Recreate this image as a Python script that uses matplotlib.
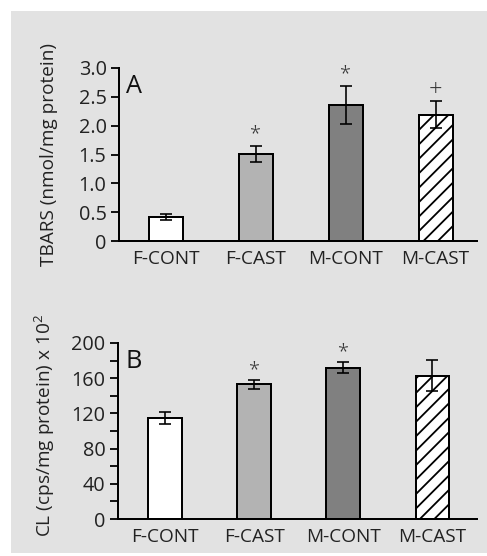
import matplotlib
matplotlib.use("Agg")
import matplotlib.pyplot as plt
from matplotlib.patches import Rectangle
from matplotlib.ticker import MultipleLocator

groups = ["F-CONT", "F-CAST", "M-CONT", "M-CAST"]

tbars = [0.41, 1.51, 2.36, 2.19]
tbars_err = [0.05, 0.14, 0.33, 0.23]
tbars_marks = ["", "*", "*", "+"]

cl = [115, 153, 172, 163]
cl_err = [6.5, 5, 6, 18]
cl_marks = ["", "*", "*", ""]

bar_colors = ["white", "#b3b3b3", "#808080", "white"]
bar_hatches = ["", "", "", "///"]

DPI = 130
plt.rcParams["font.family"] = ["Open Sans", "DejaVu Sans"]
plt.rcParams["mathtext.default"] = "regular"
plt.rcParams["hatch.linewidth"] = 1.0

fig = plt.figure(figsize=(487 / DPI, 556 / DPI), dpi=DPI)
fig.patches.append(Rectangle((11 / 487, 3 / 556), 1, 1 - 14 / 556,
                             transform=fig.transFigure, facecolor="#e2e2e2",
                             edgecolor="none", zorder=-10))

ax_a = fig.add_axes([0.2444, 0.5665, 0.7351, 0.3112])
ax_b = fig.add_axes([0.2423, 0.0665, 0.7372, 0.3166])


def draw_panel(ax, vals, errs, marks, mark_gap, ylabel, letter):
    x = range(len(groups))
    for i in x:
        ax.bar(i, vals[i], width=0.38, color=bar_colors[i], hatch=bar_hatches[i],
               edgecolor="black", linewidth=1.1, zorder=2)
        ax.errorbar(i, vals[i], yerr=errs[i], color="black", elinewidth=0.9,
                    capsize=3.3, capthick=0.9, zorder=3)
        if marks[i]:
            size = 13 if marks[i] == "+" else 11
            ax.text(i, vals[i] + errs[i] + mark_gap, marks[i], ha="center",
                    va="center", fontsize=size, color="#333333",
                    fontweight="light")
    for side in ["top", "right"]:
        ax.spines[side].set_visible(False)
    for side in ["left", "bottom"]:
        ax.spines[side].set_linewidth(1.1)
    ax.set_facecolor("none")
    ax.set_xticks(list(x))
    ax.set_xticklabels(groups, fontsize=10.5, color="#222222")
    ax.tick_params(axis="x", length=0, pad=5)
    ax.tick_params(axis="y", direction="out", length=4.4, width=1.0,
                   labelsize=11, labelcolor="#222222", pad=2.5)
    ax.set_ylabel(ylabel, fontsize=10.5, color="#222222")
    ax.text(0.02, 0.965, letter, transform=ax.transAxes, fontsize=14,
            va="top", ha="left", color="#111111")


draw_panel(ax_a, tbars, tbars_err, tbars_marks, 0.2,
           "TBARS (nmol/mg protein)", "A")
ax_a.set_xlim(-0.52, 3.46)
ax_a.set_ylim(0, 3.0)
ax_a.set_yticks([0, 0.5, 1.0, 1.5, 2.0, 2.5, 3.0])
ax_a.set_yticklabels(["0", "0.5", "1.0", "1.5", "2.0", "2.5", "3.0"])

draw_panel(ax_b, cl, cl_err, cl_marks, 11,
           "CL (cps/mg protein) x 10$^2$", "B")
ax_b.set_xlim(-0.53, 3.5)
ax_b.set_ylim(0, 200)
ax_b.set_yticks([0, 40, 80, 120, 160, 200])
ax_b.yaxis.set_minor_locator(MultipleLocator(20))
ax_b.tick_params(axis="y", which="minor", direction="out", length=4.4, width=1.0)

ax_a.yaxis.set_label_coords(-0.17, 0.5)
ax_b.yaxis.set_label_coords(-0.17, 0.53)

fig.savefig("out.png", dpi=DPI)
